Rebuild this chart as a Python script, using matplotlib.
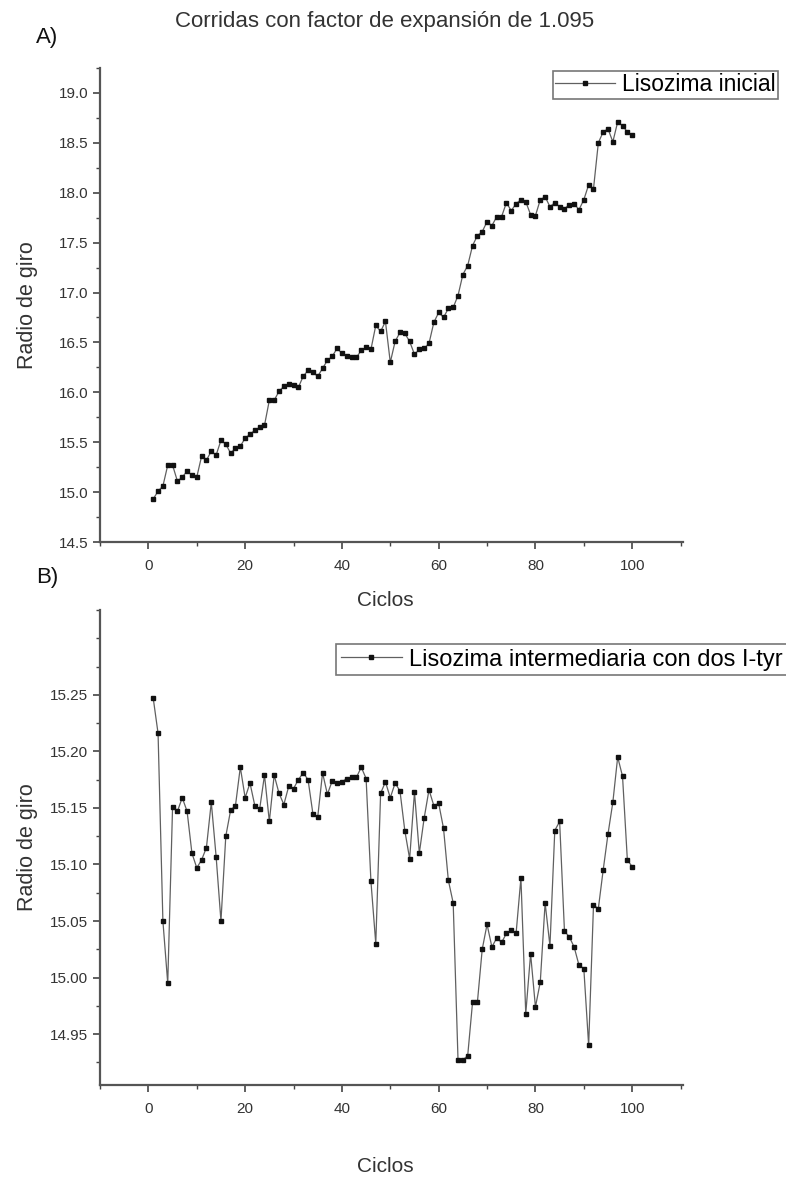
import matplotlib
matplotlib.use("Agg")
import matplotlib.pyplot as plt
from matplotlib.ticker import MultipleLocator, FixedLocator, FormatStrFormatter

plt.rcParams['font.family'] = ['Liberation Sans', 'DejaVu Sans']

ciclos = list(range(1, 101))

lisozima_inicial = [
    14.93, 15.01, 15.06, 15.27, 15.27, 15.11, 15.15, 15.21, 15.17, 15.15,
    15.36, 15.32, 15.41, 15.37, 15.52, 15.48, 15.39, 15.44, 15.46, 15.54,
    15.58, 15.62, 15.65, 15.67, 15.92, 15.92, 16.01, 16.06, 16.08, 16.07,
    16.05, 16.16, 16.22, 16.20, 16.16, 16.24, 16.32, 16.36, 16.44, 16.39,
    16.36, 16.35, 16.35, 16.42, 16.45, 16.43, 16.67, 16.61, 16.71, 16.30,
    16.51, 16.60, 16.59, 16.51, 16.38, 16.43, 16.44, 16.49, 16.70, 16.80,
    16.75, 16.84, 16.85, 16.97, 17.18, 17.27, 17.47, 17.57, 17.61, 17.71,
    17.67, 17.76, 17.76, 17.90, 17.82, 17.89, 17.93, 17.91, 17.78, 17.77,
    17.93, 17.96, 17.86, 17.90, 17.86, 17.84, 17.88, 17.89, 17.83, 17.93,
    18.08, 18.04, 18.50, 18.61, 18.64, 18.51, 18.71, 18.67, 18.61, 18.58,
]

lisozima_intermedia = [
    15.247, 15.216, 15.050, 14.995, 15.151, 15.147, 15.159, 15.147, 15.110, 15.097,
    15.104, 15.115, 15.155, 15.107, 15.050, 15.125, 15.148, 15.152, 15.186, 15.159,
    15.172, 15.152, 15.149, 15.179, 15.138, 15.179, 15.163, 15.153, 15.169, 15.167,
    15.175, 15.181, 15.175, 15.145, 15.142, 15.181, 15.162, 15.174, 15.172, 15.173,
    15.176, 15.177, 15.177, 15.186, 15.176, 15.085, 15.030, 15.163, 15.173, 15.159,
    15.172, 15.165, 15.130, 15.105, 15.164, 15.110, 15.141, 15.166, 15.152, 15.154,
    15.132, 15.086, 15.066, 14.927, 14.927, 14.931, 14.978, 14.978, 15.025, 15.047,
    15.027, 15.035, 15.031, 15.039, 15.042, 15.039, 15.088, 14.968, 15.021, 14.974,
    14.996, 15.066, 15.028, 15.130, 15.138, 15.041, 15.036, 15.027, 15.011, 15.008,
    14.940, 15.064, 15.061, 15.095, 15.127, 15.155, 15.195, 15.178, 15.104, 15.098,
]

yticks_a = [14.5, 15.0, 15.5, 16.0, 16.5, 17.0, 17.5, 18.0, 18.5, 19.0]
yticks_b = [14.95, 15.00, 15.05, 15.10, 15.15, 15.20, 15.25]
xticks = [0, 20, 40, 60, 80, 100]

label_a = "Lisozima inicial"
label_b = "Lisozima intermediaria con dos I-tyr"
titulo = "Corridas con factor de expansión de 1.095"
xlabel = "Ciclos"
ylabel = "Radio de giro"

W, H = 786, 1184
fig = plt.figure(figsize=(W / 100, H / 100), dpi=100)

def fx(px):
    return px / W

def fy(py):
    return 1 - py / H

ax1 = fig.add_axes([fx(100), fy(542), fx(683) - fx(100), fy(68) - fy(542)])
ax2 = fig.add_axes([fx(100), fy(1085), fx(683) - fx(100), fy(610) - fy(1085)])

line_kw = dict(color='#606060', lw=0.9, marker='s', markersize=2.2,
               markerfacecolor='#111111', markeredgecolor='#111111')

ax1.plot(ciclos, lisozima_inicial, label=label_a, **line_kw)
ax2.plot(ciclos, lisozima_intermedia, label=label_b, **line_kw)

ax1.set_xlim(-10, 110.5)
ax1.set_ylim(14.5, 19.25)
ax2.set_xlim(-10, 110.5)
ax2.set_ylim(14.905, 15.325)

ax1.yaxis.set_major_locator(FixedLocator(yticks_a))
ax1.yaxis.set_minor_locator(MultipleLocator(0.25))
ax2.yaxis.set_major_locator(FixedLocator(yticks_b))
ax2.yaxis.set_minor_locator(MultipleLocator(0.025))
ax1.yaxis.set_major_formatter(FormatStrFormatter('%.1f'))
ax2.yaxis.set_major_formatter(FormatStrFormatter('%.2f'))

for ax in (ax1, ax2):
    ax.xaxis.set_major_locator(FixedLocator(xticks))
    ax.xaxis.set_minor_locator(MultipleLocator(10))
    for s in ('top', 'right'):
        ax.spines[s].set_visible(False)
    for s in ('left', 'bottom'):
        ax.spines[s].set_color('#555555')
        ax.spines[s].set_linewidth(1.6)
    ax.tick_params(axis='both', which='major', direction='out', length=5,
                   width=1.2, color='#444444', labelsize=11, labelcolor='#333333')
    ax.tick_params(axis='x', which='major', pad=7)
    ax.tick_params(axis='both', which='minor', direction='out', length=3,
                   width=1.0, color='#444444')
    ax.set_xlabel(xlabel, fontsize=15, color='#333333')
    ax.set_ylabel(ylabel, fontsize=15.5, color='#333333')
    ax.yaxis.set_label_coords((38 - 100) / 583, 0.5)

ax1.xaxis.set_label_coords(0.49, (542 - 591) / 474)
ax2.xaxis.set_label_coords(0.49, (1085 - 1157) / 475)

leg1 = ax1.legend(loc='upper left', bbox_to_anchor=(fx(553), fy(71)),
                  bbox_transform=fig.transFigure, fontsize=16.5, fancybox=False,
                  edgecolor='#777777', handlelength=2.6, borderpad=0.1,
                  handletextpad=0.3, borderaxespad=0, framealpha=1)
leg2 = ax2.legend(loc='upper left', bbox_to_anchor=(fx(336), fy(644)),
                  bbox_transform=fig.transFigure, fontsize=17, fancybox=False,
                  edgecolor='#777777', handlelength=2.6, borderpad=0.2,
                  handletextpad=0.3, borderaxespad=0, framealpha=1)
for leg in (leg1, leg2):
    leg.get_frame().set_linewidth(1.2)

fig.text(fx(385), fy(22), titulo, ha='center', va='center', fontsize=16, color='#333333')
fig.text(fx(36), fy(38), "A)", ha='left', va='center', fontsize=16, color='#111111')
fig.text(fx(36), fy(578), "B)", ha='left', va='center', fontsize=16, color='#111111')

fig.savefig("out.png", dpi=100)
